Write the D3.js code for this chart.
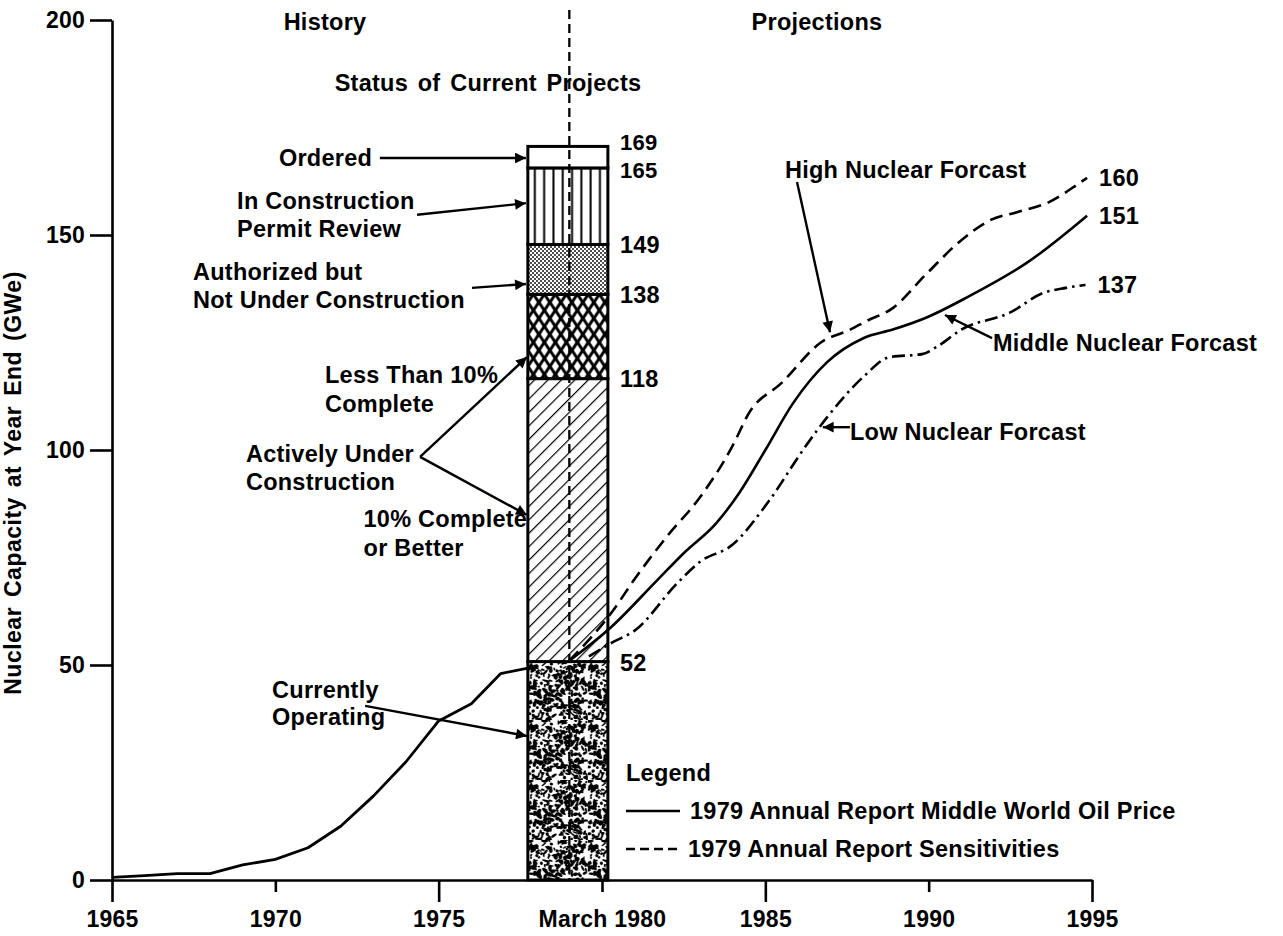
<!DOCTYPE html>
<html>
<head>
<meta charset="utf-8">
<script src="https://cdn.jsdelivr.net/npm/d3@7"></script>
<style>
  body { margin: 0; background: #fff; }
  svg text { font-family: "Liberation Sans", Arial, Helvetica, sans-serif; font-weight: bold; fill: #000; letter-spacing: 0.25px; }
</style>
</head>
<body>
<svg id="chart" width="1283" height="936"></svg>
<script>
// nuclear capacity chart, 1965-1995

const W = 1283, H = 936;

// history (year end capacity, GWe)
const histYears = [1965, 1966, 1967, 1968, 1969, 1970, 1971, 1972, 1973, 1974, 1975, 1976, 1976.9, 1977.73];
const histValues = [0.6, 1.0, 1.5, 1.5, 3.5, 4.8, 7.5, 12.5, 19.5, 27.5, 37, 41, 48, 49.3];

// projections
const midYears = [1979, 1980.25, 1981.7, 1982.5, 1983.5, 1984.2, 1985, 1985.85, 1986.9, 1988, 1988.9, 1989.9, 1991.2, 1993, 1994.85];
const midValues = [51, 58.6, 69.8, 76, 83, 90, 100, 110.9, 120.5, 126, 128, 130.7, 135.6, 143.5, 154.5];

const highYears = [1979, 1980.35, 1981, 1982, 1983, 1984, 1984.5, 1985.5, 1986.7, 1987.6, 1988.1, 1988.9, 1989.9, 1991, 1991.9, 1992.7, 1993.7, 1994.6, 1994.85];
const highValues = [51, 62.8, 70, 80, 89, 101, 108.6, 115.6, 125, 128, 130, 133, 140.7, 148.8, 153.5, 155.3, 157.7, 162, 163.3];

const lowYears = [1979.6, 1980.33, 1981, 1982.3, 1983, 1984, 1985, 1986.3, 1986.9, 1988, 1988.8, 1989.8, 1990.25, 1991, 1992.5, 1993.5, 1994.2, 1994.8];
const lowValues = [52, 55.3, 58, 69, 74, 78, 87, 101.6, 107.7, 117, 121.6, 122.3, 124, 128, 132, 136.5, 137.7, 138.4];

// status of current projects (stacked, cumulative GWe as drawn)
const stackBounds = [0, 50.8, 116.6, 136.2, 147.8, 165.6, 170.6];
const stackFills = ["speckle", "hatch", "cross", "stipple", "vlines", "white"];
const stackLabels = ["52", "118", "138", "149", "165", "169"];
const labelShift = [1, 0, 0, 0, 2, -4];
const barStart = 1977.73, barEnd = 1980.18, statusYear = 1979;

const yTicks = [0, 50, 100, 150, 200];
const xTicks = [1965, 1970, 1975, 1980, 1985, 1990, 1995];
const xTickLabels = ["1965", "1970", "1975", "March 1980", "1985", "1990", "1995"];

// annotations: text lines [year, value, text]
const notes = [
  [1970.11, 167.9, "Ordered"],
  [1968.83, 157.9, "In Construction"],
  [1968.83, 151.4, "Permit Review"],
  [1967.48, 141.4, "Authorized but"],
  [1967.48, 134.9, "Not Under Construction"],
  [1971.52, 117.4, "Less Than 10%"],
  [1971.52, 110.7, "Complete"],
  [1969.10, 99.1, "Actively Under"],
  [1969.10, 92.6, "Construction"],
  [1972.70, 84.0, "10% Complete"],
  [1972.70, 77.2, "or Better"],
  [1969.90, 44.2, "Currently"],
  [1969.90, 37.9, "Operating"],
  [1985.60, 165.1, "High Nuclear Forcast"],
  [1991.97, 124.9, "Middle Nuclear Forcast"],
  [1987.59, 104.2, "Low Nuclear Forcast"]
];

// arrows [fromYear, fromValue, toYear, toValue]
const arrows = [
  [1973.2, 167.9, 1977.67, 167.9],
  [1974.34, 154.7, 1977.67, 157.4],
  [1976.02, 137.7, 1977.67, 138.6],
  [1974.43, 98.4, 1977.70, 121.6],
  [1974.43, 98.4, 1977.70, 84.9],
  [1972.75, 40.5, 1977.70, 33.5],
  [1985.97, 162.3, 1986.98, 127.4],
  [1991.94, 126.0, 1990.50, 131.4],
  [1987.59, 105.3, 1986.76, 105.3]
];

const endLabels = ["160", "151", "137"];

const svg = d3.select("#chart");
svg.append("rect").attr("width", W).attr("height", H).attr("fill", "#fff");

const x = d3.scaleLinear().domain([1965, 1995]).range([112, 1092]);
const y = d3.scaleLinear().domain([0, 200]).range([880, 20]);

// ---- patterns ----
const defs = svg.append("defs");
const bx = x(barStart);

const hatch = defs.append("pattern").attr("id", "hatch").attr("patternUnits", "userSpaceOnUse")
  .attr("width", 9.5).attr("height", 9.5).attr("patternTransform", "rotate(45)");
hatch.append("rect").attr("width", 9.5).attr("height", 9.5).attr("fill", "#fff");
hatch.append("line").attr("x1", 0).attr("y1", -1).attr("x2", 0).attr("y2", 11).attr("stroke", "#000").attr("stroke-width", 2.4);

const vl = defs.append("pattern").attr("id", "vlines").attr("patternUnits", "userSpaceOnUse")
  .attr("x", bx).attr("width", 9.3).attr("height", 10);
vl.append("rect").attr("width", 9.3).attr("height", 10).attr("fill", "#fff");
vl.append("line").attr("x1", 7).attr("y1", 0).attr("x2", 7).attr("y2", 10).attr("stroke", "#000").attr("stroke-width", 2);

const cw = 11, ch = 16;
const cross = defs.append("pattern").attr("id", "cross").attr("patternUnits", "userSpaceOnUse")
  .attr("x", bx).attr("y", y(136.2)).attr("width", cw).attr("height", ch);
cross.append("rect").attr("width", cw).attr("height", ch).attr("fill", "#000");
const diamond = (cx, cy) => `M${cx},${cy - 5.6} L${cx + 3.6},${cy} L${cx},${cy + 5.6} L${cx - 3.6},${cy} Z`;
[[cw / 2, ch / 2], [0, 0], [cw, 0], [0, ch], [cw, ch]].forEach(([a, b]) =>
  cross.append("path").attr("d", diamond(a, b)).attr("fill", "#fff"));

const st = defs.append("pattern").attr("id", "stipple").attr("patternUnits", "userSpaceOnUse")
  .attr("width", 4).attr("height", 4);
st.append("rect").attr("width", 4).attr("height", 4).attr("fill", "#fff");
st.append("circle").attr("cx", 1).attr("cy", 1).attr("r", 0.95).attr("fill", "#000");
st.append("circle").attr("cx", 3).attr("cy", 3).attr("r", 0.95).attr("fill", "#000");

// speckle texture, seeded so it stays the same on every run
let seed = 11;
const rnd = () => (seed = (seed * 16807) % 2147483647) / 2147483647;
const sp = defs.append("pattern").attr("id", "speckle").attr("patternUnits", "userSpaceOnUse")
  .attr("x", bx).attr("width", 60).attr("height", 60);
sp.append("rect").attr("width", 60).attr("height", 60).attr("fill", "#fff");
for (let i = 0; i < 330; i++) {
  const cx = rnd() * 60, cy = rnd() * 60;
  sp.append("ellipse")
    .attr("cx", cx).attr("cy", cy)
    .attr("rx", 0.9 + rnd() * 2.4).attr("ry", 0.7 + rnd() * 1.3)
    .attr("transform", `rotate(${rnd() * 180},${cx},${cy})`)
    .attr("fill", "#000");
}

// ---- axes ----
const font = 23.5;
const yAxis = svg.append("g").attr("transform", `translate(${x(1965)},0)`)
  .call(d3.axisLeft(y).tickValues(yTicks).tickSize(22).tickSizeOuter(0).tickPadding(5));
const xAxis = svg.append("g").attr("transform", `translate(0,${y(0)})`)
  .call(d3.axisBottom(x).tickValues(xTicks).tickSize(22).tickSizeOuter(0).tickPadding(9)
    .tickFormat((d, i) => xTickLabels[i]));
[yAxis, xAxis].forEach(g => {
  g.select(".domain").attr("stroke-width", 2.6);
  g.selectAll(".tick line").attr("stroke-width", 2.6);
  g.selectAll("text").style("font-size", "23px").style("font-family", null);
});
xAxis.selectAll(".tick line").attr("y2", (d, i) => (i % 2 ? 12 : 22));

svg.append("text").attr("transform", `translate(21,483) rotate(-90)`)
  .attr("text-anchor", "middle").style("font-size", "23px").style("word-spacing", "3px")
  .style("letter-spacing", "0.5px")
  .text("Nuclear Capacity at Year End (GWe)");

// ---- headings ----
svg.append("text").attr("x", x(1971.52)).attr("y", y(199.5)).attr("dy", "0.35em")
  .attr("text-anchor", "middle").style("font-size", font + "px").text("History");
svg.append("text").attr("x", x(1986.58)).attr("y", y(199.5)).attr("dy", "0.35em")
  .attr("text-anchor", "middle").style("font-size", font + "px").text("Projections");
svg.append("text").attr("x", x(1976.51)).attr("y", y(185.3)).attr("dy", "0.35em")
  .attr("text-anchor", "middle").style("font-size", font + "px").style("word-spacing", "3px")
  .text("Status of Current Projects");

// ---- history line (under the bar) ----
const line = d3.line().x(d => x(d[0])).y(d => y(d[1])).curve(d3.curveMonotoneX);
const poly = d3.line().x(d => x(d[0])).y(d => y(d[1]));
svg.append("path").datum(d3.zip(histYears, histValues)).attr("d", poly)
  .attr("fill", "none").attr("stroke", "#000").attr("stroke-width", 2.8).attr("stroke-linejoin", "round");

// ---- status bar ----
const bar = svg.append("g");
bar.selectAll("rect.seg").data(stackFills).join("rect").attr("class", "seg")
  .attr("x", x(barStart)).attr("width", x(barEnd) - x(barStart))
  .attr("y", (d, i) => y(stackBounds[i + 1]))
  .attr("height", (d, i) => y(stackBounds[i]) - y(stackBounds[i + 1]))
  .attr("fill", d => d === "white" ? "#fff" : `url(#${d})`)
  .attr("stroke", "#000").attr("stroke-width", 3);

bar.selectAll("text").data(stackLabels).join("text")
  .attr("x", x(1980.55)).attr("y", (d, i) => y(stackBounds[i + 1]) + labelShift[i]).attr("dy", "0.35em")
  .style("font-size", (d, i) => (i >= 4 ? "22px" : font + "px")).text(d => d);

// ---- projections ----
svg.append("path").datum(d3.zip(midYears, midValues)).attr("d", line)
  .attr("fill", "none").attr("stroke", "#000").attr("stroke-width", 2.6);
svg.append("path").datum(d3.zip(highYears, highValues)).attr("d", line)
  .attr("fill", "none").attr("stroke", "#000").attr("stroke-width", 2.6).attr("stroke-dasharray", "13 7");
svg.append("path").datum(d3.zip(lowYears, lowValues)).attr("d", line)
  .attr("fill", "none").attr("stroke", "#000").attr("stroke-width", 2.6).attr("stroke-dasharray", "13 5 2.5 5");

const ends = [highYears, midYears, lowYears].map((ys, k) => {
  const vs = [highValues, midValues, lowValues][k];
  return [ys[ys.length - 1], vs[vs.length - 1]];
});
svg.selectAll("text.end").data(endLabels).join("text").attr("class", "end")
  .attr("x", (d, i) => x(ends[i][0]) + 12).attr("y", (d, i) => y(ends[i][1])).attr("dy", "0.35em")
  .style("font-size", font + "px").text(d => d);

// ---- vertical status divider ----
svg.append("line").attr("x1", x(statusYear)).attr("x2", x(statusYear))
  .attr("y1", 10).attr("y2", y(0))
  .attr("stroke", "#000").attr("stroke-width", 2.3).attr("stroke-dasharray", "9 5");

// ---- annotations ----
svg.selectAll("text.note").data(notes).join("text").attr("class", "note")
  .attr("x", d => x(d[0])).attr("y", d => y(d[1])).attr("dy", "0.35em")
  .style("font-size", font + "px").text(d => d[2]);

defs.append("marker").attr("id", "arrow").attr("viewBox", "0 0 10 10")
  .attr("refX", 10).attr("refY", 5).attr("markerWidth", 6.5).attr("markerHeight", 4.5)
  .attr("markerUnits", "strokeWidth").attr("orient", "auto")
  .append("path").attr("d", "M0,0 L10,5 L0,10 Z").attr("fill", "#000");

svg.selectAll("line.arrow").data(arrows).join("line").attr("class", "arrow")
  .attr("x1", d => x(d[0])).attr("y1", d => y(d[1]))
  .attr("x2", d => x(d[2])).attr("y2", d => y(d[3]))
  .attr("stroke", "#000").attr("stroke-width", 2.4).attr("marker-end", "url(#arrow)");

// ---- legend ----
const lg = svg.append("g").attr("transform", "translate(626,773)");
lg.append("text").attr("dy", "0.35em").style("font-size", font + "px").text("Legend");
lg.append("line").attr("x1", 0).attr("x2", 54).attr("y1", 38).attr("y2", 38)
  .attr("stroke", "#000").attr("stroke-width", 2.6);
lg.append("text").attr("x", 64).attr("y", 38).attr("dy", "0.35em").style("font-size", font + "px")
  .text("1979 Annual Report Middle World Oil Price");
lg.append("line").attr("x1", 0).attr("x2", 54).attr("y1", 76).attr("y2", 76)
  .attr("stroke", "#000").attr("stroke-width", 2.6).attr("stroke-dasharray", "9 5");
lg.append("text").attr("x", 62).attr("y", 76).attr("dy", "0.35em").style("font-size", font + "px")
  .text("1979 Annual Report Sensitivities");
</script>
</body>
</html>
